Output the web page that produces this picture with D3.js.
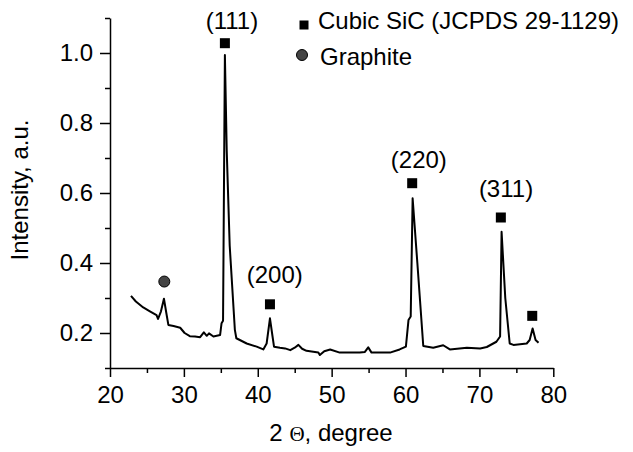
<!DOCTYPE html>
<html>
<head>
<meta charset="utf-8">
<script src="https://cdn.jsdelivr.net/npm/d3@7"></script>
<style>
body{margin:0;background:#fff;}
text{font-family:"Liberation Sans",Arial,sans-serif;fill:#000;}
</style>
</head>
<body>
<svg></svg>
<script>

// XRD pattern
var twoTheta=[22.84,23.5,24.5,25.4,26.3,26.5,26.9,27.3,27.6,27.9,28.6,29.5,30.1,30.8,31.5,32.2,32.7,33.1,33.4,34.0,34.9,35.1,35.3,35.55,35.8,36.2,36.9,37.1,38.5,39.85,40.75,41.2,41.65,42.0,42.2,43.0,43.7,44.4,45.0,45.5,46.0,46.6,48.2,48.4,49.0,49.8,51.1,53.8,54.5,54.95,55.4,57.9,59.2,60.05,60.4,60.7,60.96,61.6,62.4,63.75,65.1,66.0,68.3,70.1,71.0,72.3,72.8,73.0,73.5,74.1,74.6,75.5,76.4,76.8,77.2,77.6,78.0]
var intensity=[0.306,0.29,0.273,0.262,0.251,0.24,0.262,0.298,0.26,0.223,0.22,0.215,0.2,0.191,0.19,0.188,0.202,0.192,0.199,0.19,0.194,0.228,0.235,0.994,0.72,0.45,0.209,0.185,0.17,0.161,0.153,0.17,0.242,0.19,0.161,0.158,0.156,0.151,0.158,0.166,0.155,0.149,0.144,0.137,0.148,0.153,0.144,0.144,0.146,0.159,0.144,0.144,0.153,0.161,0.237,0.247,0.585,0.4,0.163,0.158,0.165,0.153,0.158,0.156,0.16,0.175,0.19,0.489,0.3,0.17,0.166,0.168,0.17,0.18,0.213,0.18,0.172]

// peak markers
var sicX=[35.55,41.65,60.9,72.9,77.15]
var sicY=[1.028,0.282,0.628,0.53,0.249]
var graphiteX=[27.35]
var graphiteY=[0.347]

// hkl labels
var hklText=["(111)","(200)","(220)","(311)"]
var hklX=[36.5,42.3,61.8,73.6]
var hklY=[1.07,0.342,0.671,0.589]

var xTicks=[20,30,40,50,60,70,80]
var yTicks=[0.2,0.4,0.6,0.8,1.0]

var screen={width:633,height:452}
var margins={top:18,right:80,bottom:84,left:110}
var fs="24px"

var svg=d3.select("svg")
    .attr("width",screen.width)
    .attr("height",screen.height)

var xScale=d3.scaleLinear()
    .domain([20,80])
    .range([0,443.3])

var yScale=d3.scaleLinear()
    .domain([0.1,1.1])
    .range([350,0])

var graph=svg.append("g")
    .attr("id","graph")
    .attr("transform","translate("+margins.left+","+margins.top+")")

// minor ticks first
graph.append("g")
    .attr("transform","translate(0,350)")
    .call(d3.axisBottom(xScale).tickValues(d3.range(25,80,10)).tickSize(5).tickFormat(""))
    .call(function(g){g.select(".domain").remove()})

graph.append("g")
    .call(d3.axisLeft(yScale).tickValues([0.1,0.3,0.5,0.7,0.9,1.1]).tickSize(5).tickFormat(""))
    .call(function(g){g.select(".domain").remove()})

var xAxis=graph.append("g")
    .attr("transform","translate(0,350)")
    .call(d3.axisBottom(xScale).tickValues(xTicks).tickSize(9).tickSizeOuter(0).tickPadding(9).tickFormat(d3.format("d")))

var yAxis=graph.append("g")
    .call(d3.axisLeft(yScale).tickValues(yTicks).tickSize(10).tickSizeOuter(0).tickPadding(7).tickFormat(d3.format(".1f")))

graph.selectAll(".tick line").attr("stroke","#000").attr("stroke-width",1.5)
graph.selectAll(".domain").attr("stroke","#000").attr("stroke-width",1.5)
graph.selectAll(".tick text")
    .style("font-size",fs)
    .style("font-family","'Liberation Sans',Arial,sans-serif")
    .attr("fill","#000")

var line=d3.line()
    .x(function(d,i){return xScale(twoTheta[i])})
    .y(function(d){return yScale(d)})

graph.append("path")
    .datum(intensity)
    .attr("d",line)
    .attr("fill","none")
    .attr("stroke","#000")
    .attr("stroke-width",2)
    .attr("stroke-linejoin","round")

graph.selectAll("rect.sic")
    .data(sicY)
    .enter()
    .append("rect")
    .attr("class","sic")
    .attr("x",function(d,i){return xScale(sicX[i])-5})
    .attr("y",function(d){return yScale(d)-5})
    .attr("width",10)
    .attr("height",10)
    .attr("fill","#000")

graph.selectAll("circle.gr")
    .data(graphiteY)
    .enter()
    .append("circle")
    .attr("class","gr")
    .attr("cx",function(d,i){return xScale(graphiteX[i])})
    .attr("cy",function(d){return yScale(d)})
    .attr("r",5.5)
    .attr("fill","#444")
    .attr("stroke","#000")
    .attr("stroke-width",1)

graph.selectAll("text.hkl")
    .data(hklText)
    .enter()
    .append("text")
    .attr("class","hkl")
    .attr("x",function(d,i){return xScale(hklX[i])})
    .attr("y",function(d,i){return yScale(hklY[i])})
    .attr("text-anchor","middle")
    .style("font-size",fs)
    .text(function(d){return d})

// legend
var legend=svg.append("g").attr("id","legend")
legend.append("rect")
    .attr("x",299.5).attr("y",20.5).attr("width",9).attr("height",9)
    .attr("fill","#000")
legend.append("text")
    .attr("x",318).attr("y",28.5)
    .style("font-size",fs)
    .text("Cubic SiC (JCPDS 29-1129)")
legend.append("circle")
    .attr("cx",302).attr("cy",55).attr("r",5.5)
    .attr("fill","#444").attr("stroke","#000")
legend.append("text")
    .attr("x",320).attr("y",65)
    .style("font-size",fs)
    .text("Graphite")

// axis titles
svg.append("text")
    .attr("transform","translate(28,190) rotate(-90)")
    .attr("text-anchor","middle")
    .style("font-size",fs)
    .text("Intensity, a.u.")

var xt=svg.append("text")
    .attr("x",331).attr("y",441)
    .attr("text-anchor","middle")
    .style("font-size",fs)
xt.append("tspan").text("2 ")
xt.append("tspan").style("font-family","'Liberation Serif',serif").style("font-size","21px").text("Θ")
xt.append("tspan").text(", degree")

</script>
</body>
</html>
